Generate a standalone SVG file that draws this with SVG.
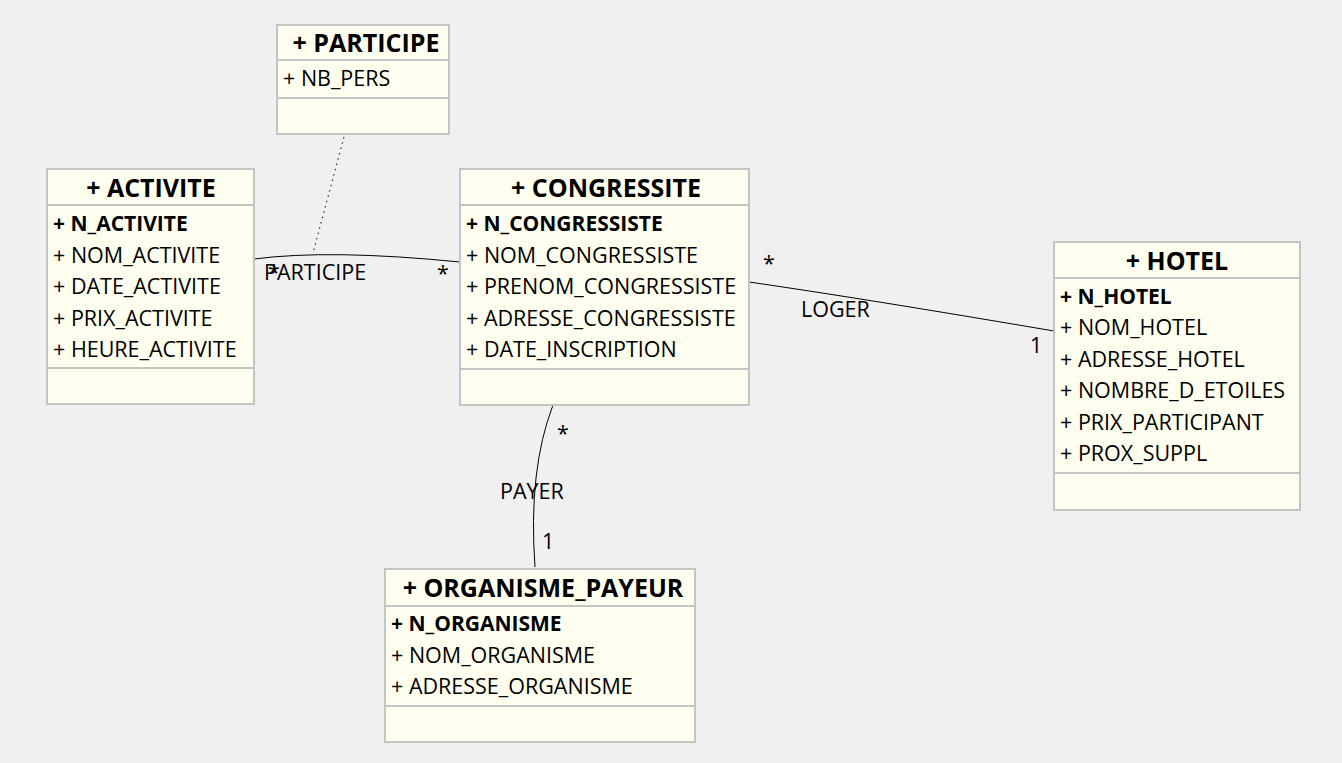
<svg xmlns="http://www.w3.org/2000/svg" width="1342" height="763" viewBox="0 0 1342 763">
<style>
.box{fill:#fffff0;stroke:#c4c4c4;stroke-width:2}
.div{stroke:#c4c4c4;stroke-width:2}
.h{font-family:"Open Sans","Noto Sans",sans-serif;font-size:25px;font-weight:bold;fill:#000;text-anchor:middle}
.hb{font-family:"Open Sans","Noto Sans",sans-serif;font-size:21px;font-weight:bold;fill:#000}
.a{font-family:"Open Sans","Noto Sans",sans-serif;font-size:21.5px;fill:#000}
.l{font-family:"Open Sans","Noto Sans",sans-serif;font-size:21.5px;fill:#000}
.c{fill:none;stroke:#000;stroke-width:1}
</style>
<rect width="1342" height="763" fill="#f0f0f0"/>
<g id="connectors">
<path class="c" d="M254,259 Q330,249 460,262"/>
<path class="c" d="M344,137 L313,253" stroke-dasharray="1.5,4"/>
<path class="c" d="M749,282 Q860,298 1054,331"/>
<path class="c" d="M553,405 Q528,470 535,567"/>
<text class="l" x="264" y="280">PARTICIPE</text>
<text class="l" x="268" y="280">*</text>
<text class="l" x="437" y="281">*</text>
<text class="l" x="763" y="271">*</text>
<text class="l" x="801" y="317">LOGER</text>
<text class="l" x="1030" y="353">1</text>
<text class="l" x="557" y="441">*</text>
<text class="l" x="500" y="499">PAYER</text>
<text class="l" x="542" y="549">1</text>
</g>
<g id="participe">
<rect class="box" x="277" y="25" width="172" height="109"/>
<line class="div" x1="277" y1="60" x2="449" y2="60"/>
<line class="div" x1="277" y1="98" x2="449" y2="98"/>
<text class="h" x="366" y="52">+ PARTICIPE</text>
<text class="a" x="283" y="86">+ NB_PERS</text>
</g>
<g id="activite">
<rect class="box" x="47" y="169" width="207" height="235"/>
<line class="div" x1="47" y1="205" x2="254" y2="205"/>
<line class="div" x1="47" y1="368" x2="254" y2="368"/>
<text class="h" x="151" y="197">+ ACTIVITE</text>
<text class="hb" x="53" y="231">+ N_ACTIVITE</text>
<text class="a" x="53" y="263">+ NOM_ACTIVITE</text>
<text class="a" x="53" y="294">+ DATE_ACTIVITE</text>
<text class="a" x="53" y="326">+ PRIX_ACTIVITE</text>
<text class="a" x="53" y="357">+ HEURE_ACTIVITE</text>
</g>
<g id="congressite">
<rect class="box" x="460" y="169" width="289" height="236"/>
<line class="div" x1="460" y1="205" x2="749" y2="205"/>
<line class="div" x1="460" y1="369" x2="749" y2="369"/>
<text class="h" x="606" y="197">+ CONGRESSITE</text>
<text class="hb" x="466" y="231">+ N_CONGRESSISTE</text>
<text class="a" x="466" y="263">+ NOM_CONGRESSISTE</text>
<text class="a" x="466" y="294">+ PRENOM_CONGRESSISTE</text>
<text class="a" x="466" y="326">+ ADRESSE_CONGRESSISTE</text>
<text class="a" x="466" y="357">+ DATE_INSCRIPTION</text>
</g>
<g id="hotel">
<rect class="box" x="1054" y="242" width="246" height="268"/>
<line class="div" x1="1054" y1="278" x2="1300" y2="278"/>
<line class="div" x1="1054" y1="473" x2="1300" y2="473"/>
<text class="h" x="1177" y="270">+ HOTEL</text>
<text class="hb" x="1060" y="304">+ N_HOTEL</text>
<text class="a" x="1060" y="335">+ NOM_HOTEL</text>
<text class="a" x="1060" y="367">+ ADRESSE_HOTEL</text>
<text class="a" x="1060" y="398">+ NOMBRE_D_ETOILES</text>
<text class="a" x="1060" y="430">+ PRIX_PARTICIPANT</text>
<text class="a" x="1060" y="461">+ PROX_SUPPL</text>
</g>
<g id="organisme_payeur">
<rect class="box" x="385" y="569" width="310" height="173"/>
<line class="div" x1="385" y1="606" x2="695" y2="606"/>
<line class="div" x1="385" y1="706" x2="695" y2="706"/>
<text class="h" x="543" y="597">+ ORGANISME_PAYEUR</text>
<text class="hb" x="391" y="631">+ N_ORGANISME</text>
<text class="a" x="391" y="663">+ NOM_ORGANISME</text>
<text class="a" x="391" y="694">+ ADRESSE_ORGANISME</text>
</g>
</svg>
